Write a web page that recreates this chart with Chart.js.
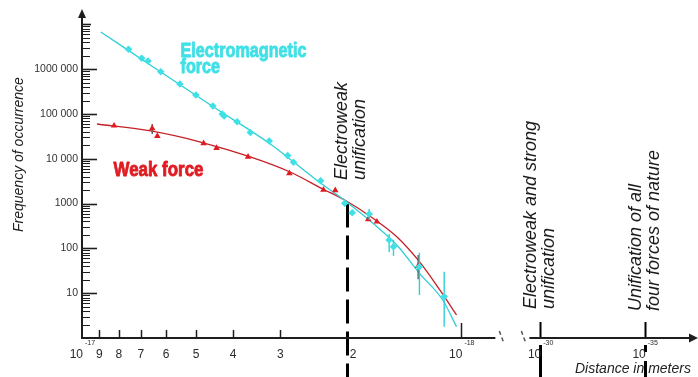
<!DOCTYPE html>
<html><head><meta charset="utf-8">
<script src="https://cdn.jsdelivr.net/npm/chart.js@4.4.1/dist/chart.umd.min.js"></script>
<style>html,body{margin:0;padding:0;background:#fff;}#wrap{width:698px;height:377px;position:relative;}</style>
</head><body><div id="wrap"><canvas id="c"></canvas></div>
<script>
// ---------- data (distances in metres, frequencies of occurrence) ----------
const emDistances = [7.54e-18, 6.96e-18, 6.70e-18, 6.20e-18, 5.52e-18, 5.01e-18, 4.52e-18, 4.27e-18, 4.22e-18, 3.90e-18, 3.60e-18, 3.21e-18, 2.87e-18, 2.77e-18, 2.35e-18, 2.03e-18, 1.94e-18, 1.75e-18, 1.55e-18, 1.51e-18, 1.29e-18, 1.11e-18];
const emFrequency = [2.78e6, 1.75e6, 1.52e6, 8.8e5, 4.67e5, 2.66e5, 1.51e5, 1.0e5, 9.0e4, 6.73e4, 3.86e4, 2.5e4, 1.18e4, 8.4e3, 3.23e3, 1.02e3, 623, 586, 154, 109, 39, 8.4];
const emErrLow  = [null,null,null,null,null,null,null,null,null,null,null,null,null,null,null,null,null, 429, 83, 68, 9.1, 1.79];
const emErrHigh = [null,null,null,null,null,null,null,null,null,null,null,null,null,null,null,null,null, 760, 210, 154, 80, 30.2];

const weakDistances = [8.23e-18, 6.53e-18, 6.33e-18, 4.78e-18, 4.42e-18, 3.65e-18, 2.84e-18, 2.31e-18, 2.15e-18, 1.76e-18, 1.67e-18, 1.30e-18];
const weakFrequency = [5.48e4, 4.8e4, 3.23e4, 2.22e4, 1.74e4, 1.11e4, 4.75e3, 2.04e3, 1.98e3, 446, 394, 40.5];
const weakErrLow  = [null, 3.6e4, null,null,null,null,null,null,null,null,null, 20.4];
const weakErrHigh = [null, 6.0e4, null,null,null,null,null,null,null,null,null, 71.3];

const emFitDistances = [8.92e-18, 6.20e-18, 4.50e-18, 3.19e-18, 2.41e-18, 2.01e-18, 1.71e-18, 1.48e-18, 1.29e-18, 1.12e-18, 1.03e-18];
const emFitFrequency = [6.77e6, 8.66e5, 1.43e5, 2.14e4, 3.36e3, 1.10e3, 363, 119, 27.8, 7.05, 1.79];
const weakFitDistances = [9.13e-18, 6.59e-18, 4.87e-18, 3.60e-18, 2.83e-18, 2.32e-18, 2.03e-18, 1.71e-18, 1.48e-18, 1.29e-18, 1.14e-18, 1.03e-18];
const weakFitFrequency = [5.98e4, 4.18e4, 2.37e4, 1.10e4, 5.07e3, 2.12e3, 1.20e3, 470, 182, 50.5, 11.8, 3.26];

const yTickValues = [10, 100, 1000, 10000, 100000, 1000000];
const yTickLabels = ['10', '100', '1000', '10 000', '100 000', '1000 000'];
const xDigitTicks = [9, 8, 7, 6, 5, 4, 3, 2];          // multiples of 10^-18 m
const xPowerTicks = [-17, -18, -30, -35];              // 10^n m
const unificationDistances = [2e-18, 1e-30, 1e-35];
const unificationLabels = [['Electroweak', 'unification'], ['Electroweak and strong', 'unification'], ['Unification of all', 'four forces of nature']];

// ---------- axis mapping (broken log axis, decreasing distance to the right) ----------
const PX_PER_DECADE = 380;
const XMAX = 613 / PX_PER_DECADE;
const FAR0 = 459 / PX_PER_DECADE;          // position of 10^-30
const FARSTEP = 104.7 / PX_PER_DECADE / 5;  // per decade beyond the break
function pos(d) {
  const e = Math.log10(d);
  if (e >= -18.0001) return -17 - e;
  return FAR0 + (-30 - e) * FARSTEP;
}
const YMAX = Math.pow(10, 323 / 44.8);

const FONT = "'Liberation Sans', Arial, Helvetica, sans-serif";
const CYAN = '#3fe0e6', CYAN_LINE = '#2fcfd8', RED = '#e01c22', RED_LINE = '#c42026', INK = '#1e1e1e';

function rotText(ctx, s, x, y, font, color) {
  ctx.save(); ctx.translate(x, y); ctx.rotate(-Math.PI / 2);
  ctx.font = font; ctx.fillStyle = color; ctx.textAlign = 'left'; ctx.textBaseline = 'alphabetic';
  ctx.fillText(s, 0, 0); ctx.restore();
}
function squeezedText(ctx, s, x, y, font, color, sx) {
  ctx.save(); ctx.translate(x, y); ctx.scale(sx, 1);
  ctx.font = font; ctx.fillStyle = color; ctx.strokeStyle = color; ctx.lineWidth = 0.9; ctx.lineJoin = 'round';
  ctx.textAlign = 'left'; ctx.textBaseline = 'alphabetic';
  ctx.fillText(s, 0, 0); ctx.strokeText(s, 0, 0); ctx.restore();
}
function line(ctx, x1, y1, x2, y2) { ctx.beginPath(); ctx.moveTo(x1, y1); ctx.lineTo(x2, y2); ctx.stroke(); }

const errSets = { 0: [emDistances, emErrLow, emErrHigh, CYAN_LINE], 1: [weakDistances, weakErrLow, weakErrHigh, '#5a5a5a'] };

const axisPlugin = {
  id: 'axesAndNotes',
  beforeDatasetsDraw(chart) {
    const ctx = chart.ctx, xs = chart.scales.x, ys = chart.scales.y;
    const ca = chart.chartArea, H = chart.height;
    const X = d => xs.getPixelForValue(pos(d));
    ctx.save();
    ctx.strokeStyle = '#000'; ctx.lineCap = 'butt';
    const u0 = Math.round(X(unificationDistances[0])) + 0.5;
    ctx.lineWidth = 3; ctx.setLineDash([24, 8]);
    line(ctx, u0, ys.getPixelForValue(1000), u0, H);
    ctx.setLineDash([]);
    for (let i = 1; i < unificationDistances.length; i++) {
      const ux = Math.round(X(unificationDistances[i])) + 0.5;
      ctx.lineWidth = 2; line(ctx, ux, ca.bottom - 16, ux, ca.bottom);
      ctx.lineWidth = 3;
      if (i === 2) ctx.setLineDash([7, 9, 40]);
      line(ctx, ux, ca.bottom + 7, ux, H);
      ctx.setLineDash([]);
    }
    ctx.restore();
  },
  beforeDatasetDraw(chart, args) {
    const e = errSets[args.index];
    if (!e) return;
    const ctx = chart.ctx, xs = chart.scales.x, ys = chart.scales.y;
    ctx.save(); ctx.strokeStyle = e[3]; ctx.lineWidth = 1.4;
    e[0].forEach((d, i) => {
      if (e[1][i] == null) return;
      const x = xs.getPixelForValue(pos(d));
      line(ctx, x, ys.getPixelForValue(e[1][i]), x, ys.getPixelForValue(e[2][i]));
    });
    ctx.restore();
  },
  afterDraw(chart) {
    const ctx = chart.ctx, xs = chart.scales.x, ys = chart.scales.y;
    const ca = chart.chartArea;
    const X = d => xs.getPixelForValue(pos(d));
    const Y = v => ys.getPixelForValue(v);
    const x0 = ca.left, y0 = ca.bottom;
    ctx.save();
    ctx.strokeStyle = INK; ctx.fillStyle = INK;
    ctx.lineWidth = 2; line(ctx, x0, y0 + 1, x0, 16);
    ctx.beginPath(); ctx.moveTo(x0, 9); ctx.lineTo(x0 - 4, 18); ctx.lineTo(x0 + 4, 18); ctx.closePath(); ctx.fill();
    for (let n = 0; n <= 6; n++) {
      for (let k = 2; k <= 9; k++) {
        const y = Math.round(Y(k * Math.pow(10, n))) + 0.5;
        ctx.lineWidth = 1; line(ctx, x0, y, x0 + 8, y);
      }
    }
    for (let n = 1; n <= 7; n++) {
      const y = Math.round(Y(Math.pow(10, n))) + 0.5;
      ctx.lineWidth = 1.6; line(ctx, x0, y, x0 + (n === 7 ? 9 : 15), y);
    }
    const brk = X(1e-18) + 34;
    ctx.lineWidth = 2;
    line(ctx, x0 - 1, y0, brk, y0);
    line(ctx, brk + 34, y0, chart.width - 8, y0);
    ctx.beginPath(); ctx.moveTo(chart.width, y0); ctx.lineTo(chart.width - 9, y0 - 4.5); ctx.lineTo(chart.width - 9, y0 + 4.5); ctx.closePath(); ctx.fill();
    ctx.strokeStyle = '#555'; ctx.lineWidth = 1.5; ctx.setLineDash([4, 3]);
    line(ctx, brk + 4, y0 - 7, brk + 8, y0 + 4);
    line(ctx, brk + 26, y0 - 7, brk + 30, y0 + 4);
    ctx.setLineDash([]); ctx.strokeStyle = INK;
    ctx.lineWidth = 1.5;
    xDigitTicks.forEach(k => { if (k === 2) return; const x = Math.round(X(k * 1e-18)) + 0.5; line(ctx, x, y0 - 8, x, y0); });
    { const x = Math.round(X(1e-18)) + 0.5; line(ctx, x, y0 - 15, x, y0); }
    ctx.fillStyle = '#2a2a2a'; ctx.font = '12px ' + FONT; ctx.textBaseline = 'alphabetic';
    ctx.textAlign = 'center';
    xDigitTicks.forEach(k => { const x = X(k * 1e-18) + (k === 2 ? 6 : 0); ctx.fillText(String(k), x, y0 + 20); });
    xPowerTicks.forEach(p => {
      const x = X(Math.pow(10, p));
      ctx.font = '12px ' + FONT; ctx.textAlign = 'right'; ctx.fillText('10', x + 1, y0 + 20);
      ctx.font = '7px ' + FONT; ctx.textAlign = 'left'; ctx.fillText(String(p), x + 3, y0 + 7);
    });
    rotText(ctx, 'Frequency of occurrence', 23, 232, 'italic 14px ' + FONT, '#222');
    ctx.font = 'italic 14px ' + FONT; ctx.fillStyle = '#222'; ctx.textAlign = 'left';
    ctx.fillText('Distance in meters', 575, 373);
    const u = unificationDistances.map(X);
    const f18 = 'italic 18px ' + FONT;
    rotText(ctx, unificationLabels[0][0], u[0] - 0.5, 180, f18, '#1a1a1a');
    rotText(ctx, unificationLabels[0][1], u[0] + 18, 180, f18, '#1a1a1a');
    rotText(ctx, unificationLabels[1][0], u[1] - 4, 309, f18, '#1a1a1a');
    rotText(ctx, unificationLabels[1][1], u[1] + 14, 309, f18, '#1a1a1a');
    rotText(ctx, unificationLabels[2][0], u[2] - 4, 311, f18, '#1a1a1a');
    rotText(ctx, unificationLabels[2][1], u[2] + 14, 311, f18, '#1a1a1a');
    const fb = 'bold 21px ' + FONT;
    ctx.font = fb;
    const sEm = 126 / ctx.measureText('Electromagnetic').width;
    squeezedText(ctx, 'Electromagnetic', 180.5, 56.5, fb, CYAN, sEm);
    squeezedText(ctx, 'force', 180.5, 72.5, fb, CYAN, sEm);
    ctx.font = fb;
    const sWk = 90 / ctx.measureText('Weak force').width;
    squeezedText(ctx, 'Weak force', 113.5, 176, fb, RED, sWk);
    ctx.restore();
  }
};

const toPts = (ds, vs) => ds.map((d, i) => ({ x: pos(d), y: vs[i] }));

new Chart(document.getElementById('c'), {
  type: 'scatter',
  data: {
    datasets: [
      { label: 'Electromagnetic force', data: toPts(emDistances, emFrequency), pointStyle: 'rectRot', pointRadius: 3.8, backgroundColor: CYAN, borderColor: CYAN, borderWidth: 0, showLine: false },
      { label: 'Weak force', data: toPts(weakDistances, weakFrequency), pointStyle: 'triangle', pointRadius: 3.8, backgroundColor: RED, borderColor: RED, borderWidth: 0, showLine: false },
      { label: 'Electromagnetic fit', data: toPts(emFitDistances, emFitFrequency), showLine: true, pointRadius: 0, borderColor: CYAN_LINE, borderWidth: 1.3, cubicInterpolationMode: 'monotone', fill: false },
      { label: 'Weak fit', data: toPts(weakFitDistances, weakFitFrequency), showLine: true, pointRadius: 0, borderColor: RED_LINE, borderWidth: 1.3, cubicInterpolationMode: 'monotone', fill: false }
    ]
  },
  options: {
    responsive: true, maintainAspectRatio: false, animation: false, devicePixelRatio: 1,
    layout: { padding: { left: 0, top: 15, right: 3, bottom: 39 } },
    plugins: { legend: { display: false }, tooltip: { enabled: false } },
    scales: {
      x: { type: 'linear', min: 0, max: XMAX, display: false },
      y: {
        type: 'logarithmic', min: 1, max: YMAX,
        grid: { display: false, drawTicks: false }, border: { display: false },
        afterBuildTicks: s => { s.ticks = yTickValues.map(v => ({ value: v })); },
        afterFit: s => { s.width = 82; },
        ticks: { autoSkip: false, padding: 4, color: '#333', font: { family: FONT, size: 10.5 }, callback: (v, i) => yTickLabels[i] }
      }
    }
  },
  plugins: [axisPlugin]
});
</script></body></html>
